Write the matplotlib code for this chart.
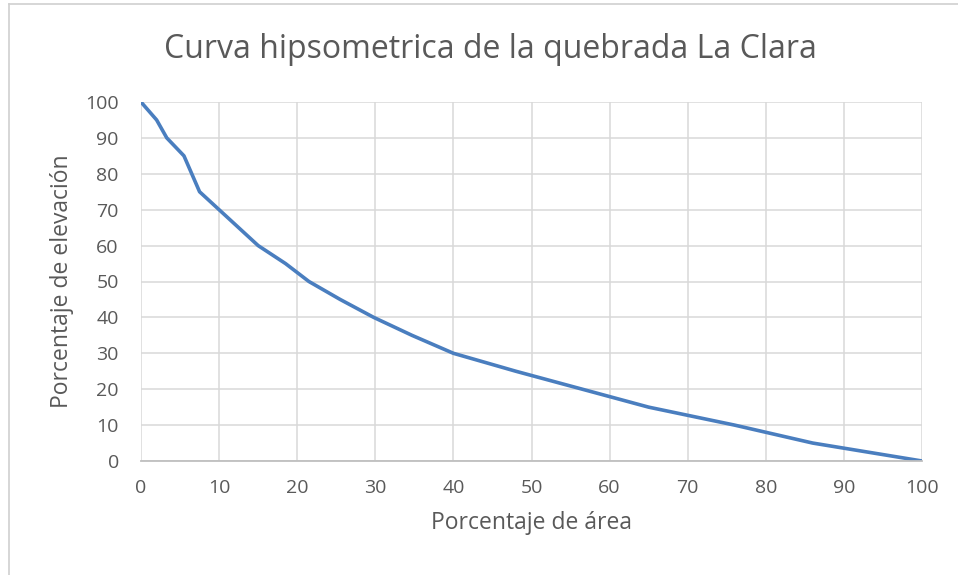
import matplotlib
matplotlib.use("Agg")
import matplotlib.pyplot as plt
from matplotlib.lines import Line2D

# datos
area = [0, 2, 3.3, 5.5, 6.5, 7.5, 10, 12.5, 15, 18.5, 21.5, 25.5, 29.8, 34.7,
        40, 48, 56.5, 65, 76, 86, 100]
elevacion = [100, 95, 90, 85, 80, 75, 70, 65, 60, 55, 50, 45, 40, 35,
             30, 25, 20, 15, 10, 5, 0]
ticks = list(range(0, 101, 10))

plt.rcParams['font.family'] = ['Open Sans', 'DejaVu Sans']
gris = '#595959'

fig = plt.figure(figsize=(9.58, 5.75), dpi=100)
ax = fig.add_axes([141 / 958, 1 - 461 / 575, 781 / 958, 359 / 575])

ax.plot(area, elevacion, color='#4a7ebf', linewidth=2.6, solid_capstyle='round')

ax.set_xlim(0, 100)
ax.set_ylim(0, 100)
ax.set_xticks(ticks)
ax.set_yticks(ticks)
ax.grid(True, color='#d9d9d9', linewidth=1.1)
ax.set_axisbelow(True)
for s in ['top', 'right', 'left']:
    ax.spines[s].set_visible(False)
ax.spines['bottom'].set_color('#bfbfbf')
ax.spines['bottom'].set_linewidth(1.3)
ax.tick_params(length=0, labelsize=14, labelcolor=gris)
ax.tick_params(axis='x', pad=13)
ax.tick_params(axis='y', pad=16)

ax.set_xlabel('Porcentaje de área', fontsize=16.5, color=gris, labelpad=10)
ax.set_ylabel('Porcentaje de elevación', fontsize=16.5, color=gris, labelpad=8)
fig.text(490 / 958, 1 - 50 / 575, 'Curva hipsometrica de la quebrada La Clara',
         fontsize=23, color=gris, ha='center', va='center')

# marco del grafico
fig.add_artist(Line2D([9 / 958, 9 / 958], [0, 1 - 3.5 / 575], color='#d0d0d0', linewidth=1.2))
fig.add_artist(Line2D([9 / 958, 1], [1 - 3.5 / 575, 1 - 3.5 / 575], color='#d0d0d0', linewidth=1.2))

fig.savefig('out.png', dpi=100)
